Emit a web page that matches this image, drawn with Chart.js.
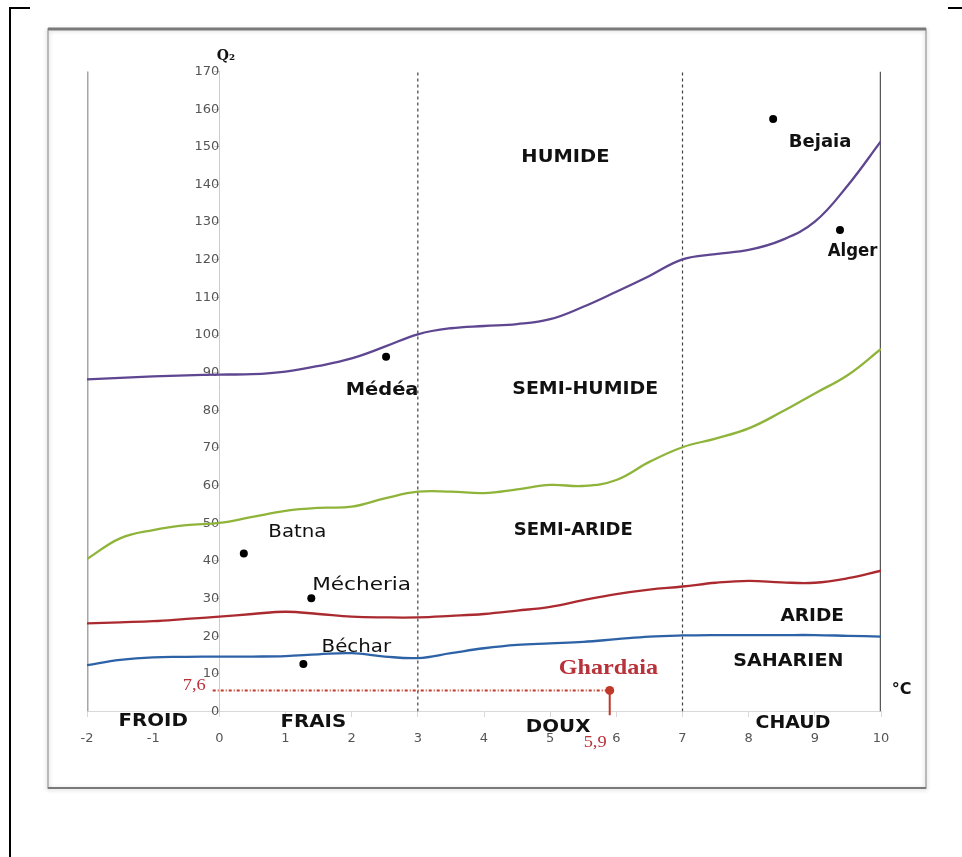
<!DOCTYPE html>
<html>
<head>
<meta charset="utf-8">
<script src="https://cdn.jsdelivr.net/npm/chart.js@4.4.1/dist/chart.umd.min.js"></script>
<style>
    html, body { margin: 0; padding: 0; background: #fff; }
    canvas { display: block; }
</style>
</head>
<body>
<canvas id="climagramme" width="962" height="857"></canvas>
<script>
// abscisses (m, °C) des courbes limites
const temperatures = [-2, -1.5, -1, -0.5, 0, 0.5, 1, 1.5, 2, 2.5, 3, 3.5, 4, 4.5, 5, 5.5, 6, 6.5, 7, 7.5, 8, 8.5, 9, 9.5, 10];

// limites des étages bioclimatiques (Q2)
const limiteHumide = [88.2, 88.6, 89.0, 89.3, 89.5, 89.6, 90.3, 91.8, 93.8, 96.9, 100.2, 101.8, 102.4, 102.9, 104.2, 107.5, 111.5, 115.7, 120.1, 121.5, 122.6, 125.2, 130.1, 139.8, 151.5];
const limiteSemiHumide = [40.5, 46.0, 48.2, 49.5, 50.1, 51.7, 53.3, 54.1, 54.4, 56.6, 58.4, 58.4, 58.0, 59.0, 60.2, 59.9, 61.5, 66.3, 70.2, 72.5, 75.2, 79.6, 84.5, 89.4, 96.3];
const limiteSemiAride = [23.4, 23.7, 24.0, 24.6, 25.2, 25.9, 26.5, 25.9, 25.2, 25.0, 25.0, 25.4, 25.9, 26.8, 27.8, 29.6, 31.2, 32.4, 33.2, 34.2, 34.7, 34.3, 34.2, 35.4, 37.4];
const limiteAride = [12.3, 13.7, 14.4, 14.5, 14.6, 14.6, 14.7, 15.2, 15.5, 14.6, 14.2, 15.5, 16.8, 17.7, 18.1, 18.5, 19.2, 19.9, 20.2, 20.3, 20.3, 20.3, 20.3, 20.1, 19.9];

// stations
const stations = ["Bejaia", "Alger", "Médéa", "Batna", "Mécheria", "Béchar"];
const stationsT = [8.37, 9.38, 2.52, 0.37, 1.39, 1.27];
const stationsQ2 = [157.4, 127.9, 94.2, 42.0, 30.1, 12.6];

// Ghardaia
const ghardaiaT = 5.9;
const ghardaiaQ2 = 5.6;
const ghardaiaTexteT = "5,9";
const ghardaiaTexteQ2 = "7,6";

// bornes des variantes thermiques
const bornesHiver = [-2, 3, 7, 10];
const variantes = ["FROID", "FRAIS", "DOUX", "CHAUD"];
const etages = ["HUMIDE", "SEMI-HUMIDE", "SEMI-ARIDE", "ARIDE", "SAHARIEN"];

// axes
const xMin = -2, xMax = 10, xPas = 1;
const yMin = 0, yMax = 170, yPas = 10;

function serie(valeurs) {
    return temperatures.map((t, i) => ({ x: t, y: valeurs[i] }));
}

function verticale(x, haut) {
    return [{ x: x, y: 0 }, { x: x, y: haut }];
}

function texte(ctx, txt, px, py, font, color, sx) {
    ctx.save();
    ctx.translate(px, py);
    ctx.scale(sx, 1);
    ctx.font = font;
    ctx.fillStyle = color;
    ctx.textAlign = "center";
    ctx.textBaseline = "middle";
    ctx.fillText(txt, 0, 0);
    ctx.restore();
}

// cadre + étiquettes
const cadrePlugin = {
    id: "cadre",
    beforeDraw(chart) {
        const ctx = chart.ctx;
        ctx.save();
        ctx.fillStyle = "#fff";
        ctx.fillRect(0, 0, chart.width, chart.height);

        // traits noirs extérieurs
        ctx.strokeStyle = "#000";
        ctx.lineWidth = 2;
        ctx.beginPath();
        ctx.moveTo(30, 8);
        ctx.lineTo(10, 8);
        ctx.lineTo(10, 857);
        ctx.moveTo(948, 8);
        ctx.lineTo(962, 8);
        ctx.stroke();

        // boîte grise
        ctx.shadowColor = "rgba(0,0,0,0.25)";
        ctx.shadowBlur = 4;
        ctx.shadowOffsetY = 1;
        ctx.strokeStyle = "#a8a8a8";
        ctx.lineWidth = 1.5;
        ctx.strokeRect(48, 29, 878, 759);
        ctx.shadowColor = "transparent";
        ctx.strokeStyle = "#7a7a7a";
        ctx.lineWidth = 3;
        ctx.beginPath();
        ctx.moveTo(48, 29);
        ctx.lineTo(926, 29);
        ctx.stroke();
        ctx.lineWidth = 2;
        ctx.beginPath();
        ctx.moveTo(48, 788);
        ctx.lineTo(926, 788);
        ctx.stroke();
        ctx.restore();
    },
    afterDatasetsDraw(chart, args, opts) {
        const ctx = chart.ctx;
        const sx = chart.scales.x, sy = chart.scales.y;
        opts.labels.forEach(l => {
            texte(ctx, l.text, sx.getPixelForValue(l.x), sy.getPixelForValue(l.y), l.font, l.color, l.sx);
        });
    }
};

const zone = 'bold 18px "DejaVu Sans"';
const ville = 'bold 18px "DejaVu Sans"';
const villeN = '18px "DejaVu Sans"';
const rouge = "#b8323a";

const labels = [
    { text: etages[0], x: 5.23, y: 147.3, font: zone, color: "#111", sx: 1.08 },
    { text: etages[1], x: 5.53, y: 85.7, font: zone, color: "#111", sx: 1.05 },
    { text: etages[2], x: 5.35, y: 48.2, font: zone, color: "#111", sx: 1.0 },
    { text: etages[3], x: 8.96, y: 25.4, font: zone, color: "#111", sx: 1.03 },
    { text: etages[4], x: 8.6, y: 13.4, font: zone, color: "#111", sx: 1.06 },
    { text: variantes[0], x: -1.0, y: -2.5, font: zone, color: "#111", sx: 1.1 },
    { text: variantes[1], x: 1.42, y: -2.8, font: zone, color: "#111", sx: 1.1 },
    { text: variantes[2], x: 5.12, y: -4.1, font: zone, color: "#111", sx: 1.1 },
    { text: variantes[3], x: 8.67, y: -3.1, font: zone, color: "#111", sx: 1.05 },
    { text: stations[0], x: 9.08, y: 151.3, font: ville, color: "#111", sx: 1.0 },
    { text: stations[1], x: 9.57, y: 122.3, font: ville, color: "#111", sx: 0.92 },
    { text: stations[2], x: 2.46, y: 85.4, font: ville, color: "#111", sx: 1.08 },
    { text: stations[3], x: 1.18, y: 47.7, font: villeN, color: "#111", sx: 1.1 },
    { text: stations[4], x: 2.15, y: 33.6, font: villeN, color: "#111", sx: 1.2 },
    { text: stations[5], x: 2.07, y: 17.1, font: villeN, color: "#111", sx: 1.1 },
    { text: "Ghardaia", x: 5.88, y: 11.3, font: 'bold 21px "Liberation Serif"', color: rouge, sx: 1.15 },
    { text: ghardaiaTexteQ2, x: -0.38, y: 6.8, font: '16px "Liberation Serif"', color: rouge, sx: 1.15 },
    { text: ghardaiaTexteT, x: 5.68, y: -8.4, font: '16px "Liberation Serif"', color: rouge, sx: 1.15 },
    { text: "°C", x: 10.31, y: 5.7, font: 'bold 16px "DejaVu Sans"', color: "#111", sx: 1.0 },
    { text: "Q₂", x: 0.1, y: 174, font: 'bold 14px "DejaVu Serif"', color: "#111", sx: 1.0 }
];

window.addEventListener("load", () => {
    const ctxDOM = document.getElementById("climagramme").getContext("2d");

    const courbe = (data, color) => ({
        data: serie(data),
        borderColor: color,
        borderWidth: 2.3,
        pointRadius: 0,
        tension: 0.4,
        fill: false,
        order: 1
    });

    const datasets = [
        courbe(limiteHumide, "#5e4691"),
        courbe(limiteSemiHumide, "#8fb43a"),
        courbe(limiteSemiAride, "#ab2a30"),
        courbe(limiteAride, "#2d62a6"),
        // bornes verticales
        { data: verticale(bornesHiver[0], 170.9), borderColor: "#a6a6a6", borderWidth: 3, pointRadius: 0, order: 3 },
        { data: verticale(bornesHiver[1], 170.5), borderColor: "#404040", borderWidth: 1.2, borderDash: [3, 3], pointRadius: 0, order: 3 },
        { data: verticale(bornesHiver[2], 170.5), borderColor: "#404040", borderWidth: 1.2, borderDash: [3, 3], pointRadius: 0, order: 3 },
        { data: verticale(bornesHiver[3], 170), borderColor: "#595959", borderWidth: 2.5, pointRadius: 0, order: 3 },
        // Ghardaia
        {
            data: [{ x: -0.1, y: ghardaiaQ2 }, { x: ghardaiaT, y: ghardaiaQ2 }],
            borderColor: "#c0392b", borderWidth: 2, borderDash: [3, 2, 1, 2],
            pointRadius: [0, 4.5], pointBackgroundColor: "#c0392b", pointBorderWidth: 0,
            order: 2, clip: false
        },
        {
            data: [{ x: ghardaiaT, y: ghardaiaQ2 }, { x: ghardaiaT, y: -1 }],
            borderColor: "#c0392b", borderWidth: 2, pointRadius: 0, order: 2, clip: false
        },
        // stations
        {
            type: "scatter",
            data: stationsT.map((t, i) => ({ x: t, y: stationsQ2[i] })),
            pointRadius: 4, pointBackgroundColor: "#000", pointBorderWidth: 0,
            order: 0
        }
    ];

    const config = {
        type: "line",
        data: { datasets: datasets },
        plugins: [cadrePlugin],
        options: {
            responsive: false,
            animation: false,
            events: [],
            layout: {
                padding: { left: 87, right: 81, top: 71.5, bottom: 145.5 }
            },
            scales: {
                x: {
                    type: "linear",
                    position: { y: 0 },
                    min: xMin,
                    max: xMax,
                    border: { color: "#d9d9d9", width: 1 },
                    grid: { drawOnChartArea: false, drawTicks: true, tickLength: 5, color: "#d9d9d9" },
                    ticks: {
                        stepSize: xPas,
                        padding: 14,
                        color: "#555",
                        font: { family: "DejaVu Sans", size: 13 }
                    }
                },
                y: {
                    type: "linear",
                    position: { x: 0 },
                    min: yMin,
                    max: yMax,
                    border: { color: "#cccccc", width: 1 },
                    grid: { drawOnChartArea: false, drawTicks: true, tickLength: 5, color: "#cccccc" },
                    ticks: {
                        stepSize: yPas,
                        padding: 12,
                        color: "#555",
                        font: { family: "DejaVu Sans", size: 13 }
                    }
                }
            },
            plugins: {
                legend: { display: false },
                tooltip: { enabled: false },
                cadre: { labels: labels }
            }
        }
    };

    new Chart(ctxDOM, config);
});
</script>
</body>
</html>
